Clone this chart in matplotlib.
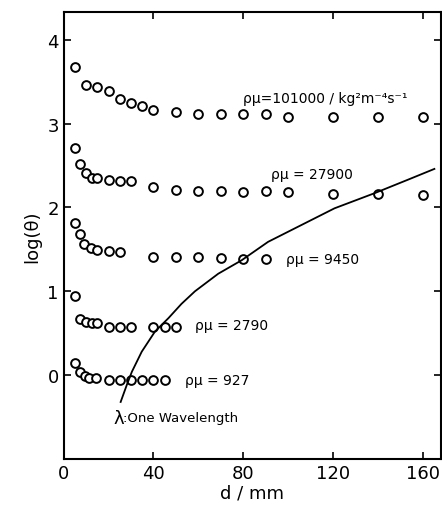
import numpy as np
import matplotlib
matplotlib.use("Agg")
import matplotlib.pyplot as plt

# rho*mu = 101000
d1 = [5, 10, 15, 20, 25, 30, 35, 40, 50, 60, 70, 80, 90, 100, 120, 140, 160]
t1 = [3.68, 3.46, 3.44, 3.39, 3.29, 3.25, 3.21, 3.16, 3.14, 3.11, 3.11, 3.11, 3.11, 3.08, 3.08, 3.08, 3.08]

# rho*mu = 27900
d2 = [5, 7.5, 10, 12.5, 15, 20, 25, 30, 40, 50, 60, 70, 80, 90, 100, 120, 140, 160]
t2 = [2.71, 2.52, 2.41, 2.35, 2.35, 2.33, 2.32, 2.31, 2.25, 2.21, 2.20, 2.20, 2.19, 2.20, 2.19, 2.16, 2.16, 2.15]

# rho*mu = 9450
d3 = [5, 7.5, 9, 12, 15, 20, 25, 40, 50, 60, 70, 80, 90]
t3 = [1.82, 1.68, 1.57, 1.52, 1.49, 1.48, 1.47, 1.41, 1.41, 1.41, 1.40, 1.38, 1.38]

# rho*mu = 2790
d4 = [5, 7.5, 10, 12.5, 15, 20, 25, 30, 40, 45, 50]
t4 = [0.94, 0.67, 0.63, 0.62, 0.62, 0.57, 0.57, 0.57, 0.57, 0.57, 0.57]

# rho*mu = 927
d5 = [5, 7.5, 9.5, 11.5, 14.5, 20, 25, 30, 35, 40, 45]
t5 = [0.14, 0.04, -0.01, -0.03, -0.03, -0.06, -0.06, -0.06, -0.06, -0.06, -0.06]

# one wavelength curve
dl = [25.4, 28.1, 30.4, 34.8, 40.7, 46.7, 52.5, 58.5, 68.9, 79.3, 91.1, 105.9, 120.7, 138.5, 153.3, 165.2]
tl = [-0.32, -0.12, 0.04, 0.28, 0.52, 0.68, 0.85, 1.00, 1.21, 1.37, 1.59, 1.79, 1.99, 2.17, 2.33, 2.46]

fig = plt.figure(figsize=(4.42, 5.06), dpi=100)
ax = fig.add_axes([0.144, 0.091, 0.853, 0.883])

for d, t in [(d1, t1), (d2, t2), (d3, t3), (d4, t4), (d5, t5)]:
    ax.plot(d, t, 'o', mfc='white', mec='black', ms=6.3, mew=1.4)
ax.plot(dl, tl, '-', color='black', lw=1.3)

fs = 10
ax.text(80, 3.30, "ρμ=101000 / kg²m⁻⁴s⁻¹", fontsize=fs, va='center')
ax.text(92.5, 2.40, "ρμ = 27900", fontsize=fs, va='center')
ax.text(99, 1.38, "ρμ = 9450", fontsize=fs, va='center')
ax.text(58.5, 0.60, "ρμ = 2790", fontsize=fs, va='center')
ax.text(54, -0.06, "ρμ = 927", fontsize=fs, va='center')
ax.text(22, -0.51, "λ", fontsize=13, va='center')
ax.text(26.5, -0.51, ":One Wavelength", fontsize=9.5, va='center')

ax.set_xlim(0, 168)
ax.set_ylim(-1, 4.33)
ax.set_xticks([0, 40, 80, 120, 160])
ax.set_yticks([0, 1, 2, 3, 4])
ax.tick_params(direction='in', top=True, right=True, length=5, width=1.2,
               labelsize=13, labelright=False, labeltop=False)
for s in ax.spines.values():
    s.set_linewidth(1.5)

ax.set_xlabel("d / mm", fontsize=13, labelpad=1)
ax.set_ylabel("log(θ)", fontsize=13)

fig.savefig("out.png", dpi=100)
